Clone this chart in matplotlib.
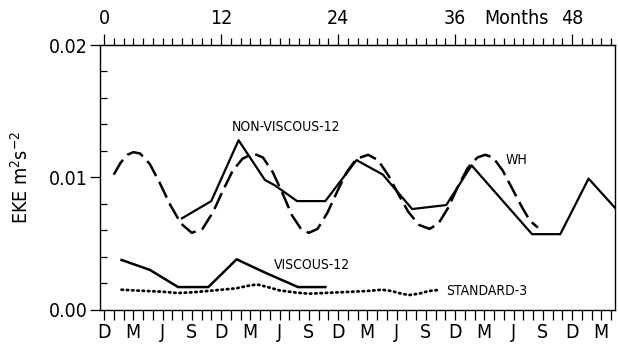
import matplotlib
matplotlib.use("Agg")
import matplotlib.pyplot as plt
from matplotlib.ticker import MultipleLocator, FixedLocator

plt.rcParams['font.family'] = ['DejaVu Sans']
plt.rcParams['font.stretch'] = 'condensed'
plt.rcParams['mathtext.default'] = 'regular'

# ---- data (months since December of year 0, EKE in m^2 s^-2) ----
nonvisc_months = [8.0, 11.0, 13.8, 16.5, 17.5, 19.8, 22.7, 25.9, 28.6, 31.6, 35.1, 37.7, 43.9, 46.8, 49.7, 52.4]
nonvisc_eke = [0.0069, 0.0082, 0.0128, 0.0098, 0.0094, 0.0082, 0.0082, 0.0113, 0.0102, 0.0076, 0.0079, 0.0109, 0.0057, 0.0057, 0.0099, 0.0077]

wh_months = [1.0, 1.7, 2.4, 3.0, 3.7, 4.7, 5.7, 6.8, 7.9, 9.0, 10.1, 11.2, 12.2, 13.2, 14.2, 15.3,
             16.3, 17.3, 18.3, 19.3, 20.2, 21.0, 21.9, 22.9, 23.9, 24.9, 25.9, 27.1, 28.1, 29.2,
             30.2, 31.2, 32.3, 33.4, 34.3, 35.3, 36.3, 37.3, 38.3, 39.1, 39.9, 40.9, 41.9, 42.9,
             43.7, 44.5]
wh_eke = [0.0102, 0.0111, 0.0117, 0.0119, 0.0118, 0.0110, 0.0096, 0.0079, 0.0065, 0.0058, 0.0061,
          0.0074, 0.0090, 0.0105, 0.0114, 0.0118, 0.0115, 0.0104, 0.0088, 0.0071, 0.0061, 0.0058,
          0.0061, 0.0073, 0.0089, 0.0104, 0.0114, 0.0117, 0.0113, 0.0101, 0.0087, 0.0074, 0.0064,
          0.0061, 0.0065, 0.0077, 0.0093, 0.0107, 0.0115, 0.0117, 0.0115, 0.0105, 0.0091, 0.0077,
          0.0067, 0.0062]

visc_months = [1.8, 4.7, 7.6, 10.7, 13.6, 16.5, 19.9, 22.7]
visc_eke = [0.00375, 0.0030, 0.0017, 0.0017, 0.0038, 0.0028, 0.0017, 0.0017]

std_months = [1.8, 3.0, 4.5, 6.0, 7.5, 9.0, 10.6, 12.0, 13.5, 14.8, 15.7, 16.8, 18.0, 19.5, 21.0,
              22.5, 24.0, 25.5, 27.0, 28.5, 29.5, 30.5, 31.3, 32.3, 33.3, 34.5]
std_eke = [0.0015, 0.00145, 0.0014, 0.00135, 0.00125, 0.0013, 0.0014, 0.0015, 0.0016, 0.0018,
           0.0019, 0.0017, 0.00145, 0.0013, 0.0012, 0.00125, 0.0013, 0.00135, 0.0014, 0.0015,
           0.0014, 0.0012, 0.0011, 0.0012, 0.0014, 0.0015]

month_ticks = list(range(0, 52, 3))
month_labels = ['D', 'M', 'J', 'S'] * 4 + ['D', 'M']
top_ticks = [0, 12, 24, 36, 48]
top_labels = ['0', '12', '24', '36', '48']
y_ticks = [0.00, 0.01, 0.02]
y_labels = ['0.00', '0.01', '0.02']

fig = plt.figure(figsize=(6.18, 3.49), dpi=100)
ax = fig.add_axes([0.162, 0.113, 0.833, 0.758])

ax.plot(wh_months, wh_eke, color='black', lw=1.8, dashes=(7.0, 2.6), solid_capstyle='butt')
ax.plot(nonvisc_months, nonvisc_eke, color='black', lw=1.6)
ax.plot(visc_months, visc_eke, color='black', lw=1.8)
ax.plot(std_months, std_eke, color='black', lw=2.0, linestyle=(0, (0.5, 1.4)), dash_capstyle='round')

ax.set_xlim(-0.4, 52.4)
ax.set_ylim(0.0, 0.02)

# bottom axis
ax.xaxis.set_major_locator(FixedLocator(month_ticks))
ax.set_xticklabels(month_labels)
ax.xaxis.set_minor_locator(MultipleLocator(1))
ax.tick_params(axis='x', which='both', direction='out', length=7, width=0.9, labelsize=14, pad=3)

# left axis
ax.set_yticks(y_ticks)
ax.set_yticklabels(y_labels)
ax.yaxis.set_minor_locator(MultipleLocator(0.002))
ax.tick_params(axis='y', which='major', direction='out', length=7, width=0.9, labelsize=14, pad=2)
ax.tick_params(axis='y', which='minor', direction='in', length=5, width=0.9)
ax.set_ylabel('EKE m$^{2}$s$^{-2}$', fontsize=14, labelpad=12)

# top axis
ax2 = ax.secondary_xaxis('top')
ax2.xaxis.set_major_locator(FixedLocator(top_ticks))
ax2.set_xticklabels(top_labels)
ax2.xaxis.set_minor_locator(MultipleLocator(1))
ax2.tick_params(which='major', direction='out', length=8, width=0.9, labelsize=14, pad=4)
ax2.tick_params(which='minor', direction='out', length=5, width=0.9)
ax.annotate('Months', xy=(42.3, 1.0), xycoords=ax.get_xaxis_transform(),
            xytext=(0, 12), textcoords='offset points', ha='center', va='bottom', fontsize=14)

for s in ax.spines.values():
    s.set_linewidth(1.0)

# series labels
ax.text(18.7, 0.0138, 'NON-VISCOUS-12', fontsize=10, ha='center', va='center')
ax.text(42.3, 0.0113, 'WH', fontsize=10, ha='center', va='center')
ax.text(21.3, 0.0034, 'VISCOUS-12', fontsize=10, ha='center', va='center')
ax.text(35.1, 0.0014, 'STANDARD-3', fontsize=10, ha='left', va='center')

fig.savefig('out.png', dpi=100)
